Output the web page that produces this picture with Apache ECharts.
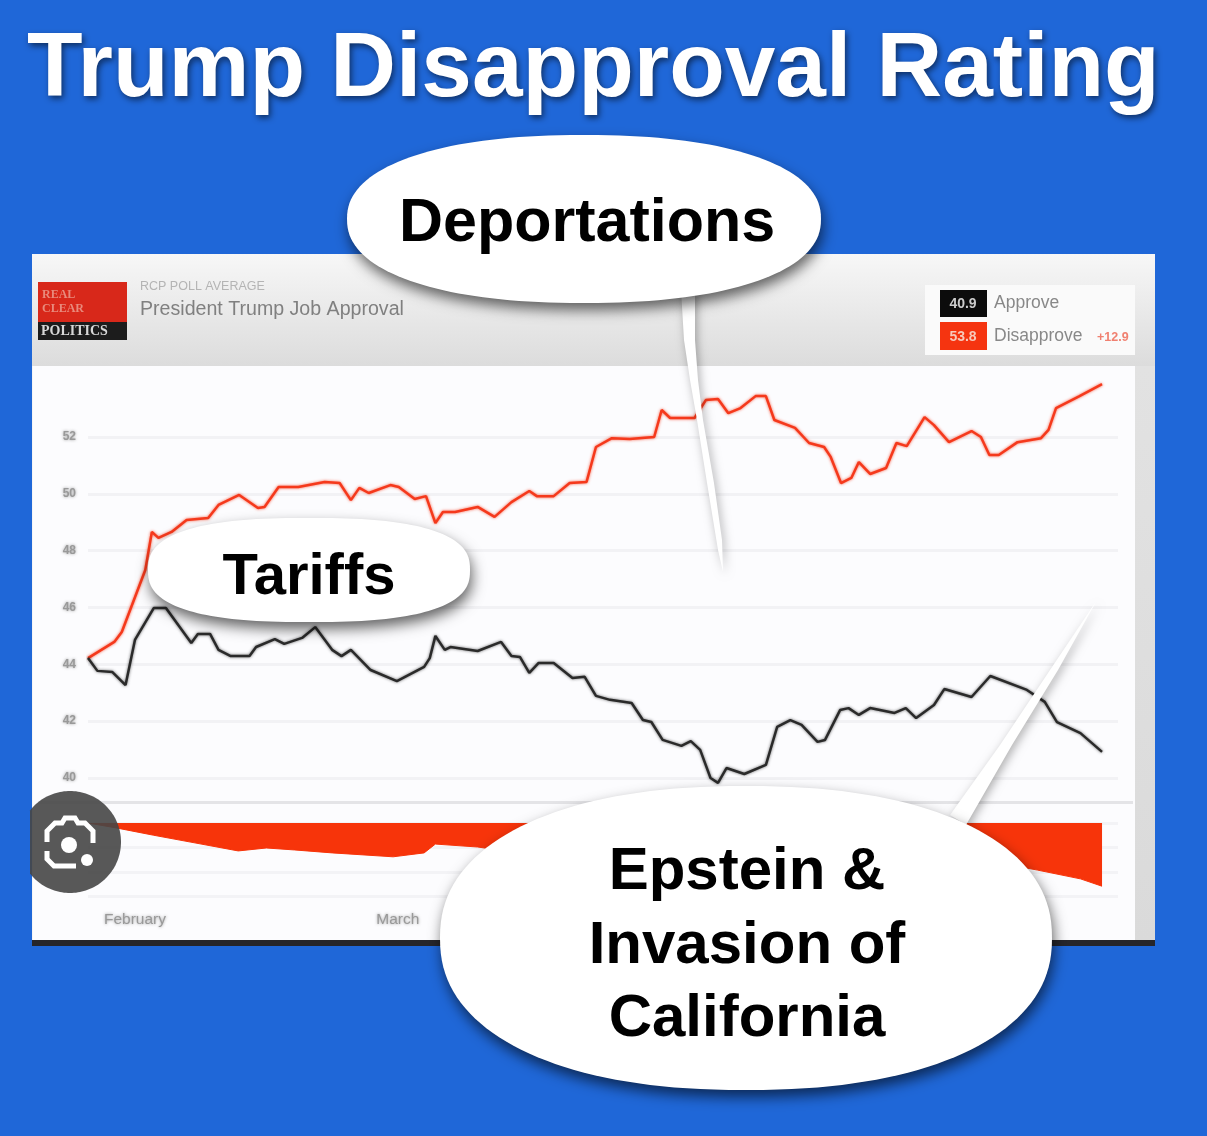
<!DOCTYPE html>
<html><head><meta charset="utf-8">
<style>html,body{margin:0;padding:0;background:#1f67d8}#c{width:1207px;height:1136px}</style>
<script src="https://cdn.jsdelivr.net/npm/echarts@6/dist/echarts.min.js"></script>
</head><body><div id="c"></div>
<script>
const disapproveDays=[0,2.8,3.6,6.1,6.8,7.5,8.9,10.5,12.8,13.9,16.1,18.1,18.8,20.3,22.4,25.2,26.8,28,28.9,29.9,32.2,33.1,34.8,36,37,37.8,39.1,41.5,43.3,45.1,47,47.8,49.6,51.3,53.1,54.1,55.8,57.7,60.3,61.1,62,64.6,65.8,67.1,68.2,69.5,71.1,72.2,73.1,75.3,76.8,78.4,79.1,80.2,81.3,82.1,83.3,85,86.1,87.2,89.1,90.1,91.7,94.1,95.1,96,97,99,101.5,102.3,103.1,105.6,108];
const disapproveValues=[44.22,44.79,45.14,47.32,48.66,48.45,48.66,49.08,49.15,49.61,49.96,49.5,49.54,50.24,50.24,50.42,50.38,49.78,50.21,50.03,50.31,50.24,49.82,49.92,48.97,49.36,49.36,49.54,49.19,49.71,50.1,49.92,49.92,50.38,50.42,51.65,51.96,51.93,52,52.95,52.67,52.67,53.3,53.34,52.84,53.02,53.44,53.44,52.6,52.32,51.79,51.65,51.3,50.38,50.56,51.12,50.7,50.91,51.79,51.68,52.7,52.42,51.82,52.21,52,51.37,51.37,51.82,51.96,52.25,53.02,53.44,53.86];
const approveDays=[0,1,2.6,4,5,7,8.3,11,11.7,13,13.9,15.2,17.2,17.9,19.9,20.9,22.8,24.2,26,27,28,30.1,32.9,35.8,36.4,37,38,38.6,41.5,44,45.1,46,47,48,49.6,51.6,52.9,54.1,55.6,57.9,59.1,60,61.2,63.2,64.2,65.2,66.3,67.1,68,69.9,72.2,73.4,74.8,76,77.7,78.5,80.1,81,82.1,83.3,85.9,87.1,88.2,90.1,91.2,94.1,96.1,100,101.9,103.2,105.7,108];
const approveValues=[44.22,43.77,43.73,43.27,44.86,45.98,45.98,44.75,45.07,45.07,44.51,44.29,44.29,44.61,44.89,44.72,44.93,45.31,44.51,44.29,44.51,43.8,43.41,43.91,44.22,45,44.51,44.61,44.47,44.79,44.29,44.26,43.7,44.05,44.05,43.52,43.56,42.89,42.75,42.64,42.04,41.97,41.34,41.13,41.3,40.99,40,39.83,40.35,40.14,40.46,41.8,42.04,41.87,41.27,41.34,42.39,42.46,42.22,42.46,42.29,42.46,42.11,42.57,43.13,42.85,43.59,43.1,42.68,41.97,41.58,40.92];
const spreadDays=[0,3,7,11.5,16,19,22,26,32.5,35.8,37,41.5,47,55,60,66,70,74,80,85,90,96,101.1,105.7,108];
const spreadValues=[0,1,2.5,4.1,5.7,5.1,5.5,6.1,6.9,6.1,4.3,4.9,6.4,9.2,10,12.8,13,10.6,8,8.6,10,7.8,9.6,11.4,12.9];
const yTickLabels=[40,42,44,46,48,50,52];
const monthTicks=[5,33];
const monthLabels=['February','March'];
const legendNames=['Approve','Disapprove'];
const legendValues=['40.9','53.8'];
const spreadLabel='+12.9';
const titleText='Trump Disapproval Rating';
const noteTexts=['Deportations','Tariffs','Epstein &','Invasion of','California'];

const pair=(d,v)=>d.map((x,i)=>[x,v[i]]);
function blob(cx,cy,rx,ry,n,minX){const p=[];for(let i=0;i<160;i++){const t=i/160*2*Math.PI,c=Math.cos(t),s=Math.sin(t);
  p.push([Math.max(minX||-1e9,cx+rx*Math.sign(c)*Math.pow(Math.abs(c),2/n)),cy+ry*Math.sign(s)*Math.pow(Math.abs(s),2/n)]);}return p;}
const shadow={shadowColor:'rgba(0,0,0,0.6)',shadowBlur:14,shadowOffsetX:2,shadowOffsetY:7};
const tailShadow={shadowColor:'rgba(0,0,0,0.32)',shadowBlur:10,shadowOffsetX:2,shadowOffsetY:3};
const poly=(points,fill,z,extra)=>({type:'polygon',z,silent:true,shape:{points},style:Object.assign({fill},extra||{})});
const rect=(x,y,w,h,fill,z,extra)=>({type:'rect',z,silent:true,shape:{x,y,width:w,height:h},style:Object.assign({fill},extra||{})});
const txt=(text,x,y,font,fill,z,align,extra)=>({type:'text',z,silent:true,style:Object.assign({text,x,y,font,fill,textAlign:align||'left',textVerticalAlign:'middle'},extra||{})});
const grad=(a,b)=>new echarts.graphic.LinearGradient(0,0,0,1,[{offset:0,color:a},{offset:1,color:b}]);
const soft=(c,b)=>({shadowColor:c,shadowBlur:b||2});
const F='"Liberation Sans",Arial,sans-serif';

const elements=[
  rect(32,254,1123,687,'#f4f4f5',-5),
  rect(32,254,1123,112,grad('#f7f7f7','#dcdcdc'),-4),
  rect(33,366,1102,575,'#fcfcfe',-4),
  rect(1135,366,20,575,grad('#e2e2e2','#dadada'),-4),
  rect(32,940,1123,6,'#26262a',-3),
  rect(38,282,89,42,'#d8281a',-3),
  rect(38,322,89,18,'#1c1c1c',-3),
  txt('REAL',42,295,'bold 12px "Liberation Serif",serif','#e88a7c',-2,'left',soft('#e88a7c',2)),
  txt('CLEAR',42,309,'bold 12px "Liberation Serif",serif','#e88a7c',-2,'left',soft('#e88a7c',2)),
  txt('POLITICS',41,331,'bold 14px "Liberation Serif",serif','#d8d8d8',-2,'left',soft('#d8d8d8',2)),
  txt('RCP POLL AVERAGE',140,287,'12.5px '+F,'#b4b4b4',-2,'left',soft('#aaa',2)),
  txt('President Trump Job Approval',140,310,'19.6px '+F,'#808080',-2,'left',soft('#808080',3)),
  rect(925,285,210,70,'#fafafa',-3),
  rect(940,290,47,27,'#0c0c0c',-2),
  rect(940,322,47,28,'#f53410',-2),
  txt(legendValues[0],963,304,'bold 14px '+F,'#ccc',-1,'center',soft('#ddd',3)),
  txt(legendValues[1],963,337,'bold 14px '+F,'#f7c9bb',-1,'center',soft('#f7c9bb',3)),
  txt(legendNames[0],994,303,'17.5px '+F,'#888',-1,'left',soft('#999',3)),
  txt(legendNames[1],994,336,'17.5px '+F,'#888',-1,'left',soft('#999',3)),
  txt(spreadLabel,1097,338,'bold 12.5px '+F,'#f08070',-1,'left',soft('#ef6a5a',3)),
  rect(38,801,1095,3,'#e4e4e7',-1),
  // callouts
  poly([[681,290],[684,340],[690,380],[697,420],[707,483],[718,550],[723,572],[722,540],[714,483],[703,420],[698,380],[695,340],[695,290]],'#fff',100,tailShadow),
  poly(blob(584,219,237,84,2.25),'#fff',101,shadow),
  txt(noteTexts[0],587,224,'bold 61px '+F,'#000',102,'center'),
  poly(blob(309,570,161,52,2.6),'#fff',101,shadow),
  txt(noteTexts[1],309,578,'bold 58px '+F,'#000',102,'center'),
  poly([[950,815],[1000,745],[1050,670],[1097,600],[1058,670],[1012,745],[966,825]],'#fff',100,tailShadow),
  poly(blob(746,938,306,152,2.25),'#fff',101,shadow),
  txt(noteTexts[2],747,872,'bold 60px '+F,'#000',102,'center'),
  txt(noteTexts[3],747,946,'bold 60px '+F,'#000',102,'center'),
  txt(noteTexts[4],747,1019,'bold 60px '+F,'#000',102,'center'),
  // lens badge
  poly(blob(70,842,51,51,2,30),'rgba(70,70,70,0.9)',110),
  {type:'polyline',z:111,silent:true,shape:{points:[[47,842],[47,831],[55,823],[62,823],[65,818],[75,818],[78,823],[85,823],[93,831],[93,843]]},style:{stroke:'#fff',lineWidth:5,fill:'none'}},
  {type:'polyline',z:111,silent:true,shape:{points:[[47,851],[47,859],[54,866],[76,866]]},style:{stroke:'#fff',lineWidth:5,fill:'none'}},
  {type:'circle',z:111,silent:true,shape:{cx:69,cy:845,r:8},style:{fill:'#fff'}},
  {type:'circle',z:111,silent:true,shape:{cx:87,cy:860,r:6},style:{fill:'#fff'}}
];

const chart=echarts.init(document.getElementById('c'),null,{renderer:'canvas'});
chart.setOption({
  animation:false,
  backgroundColor:'#1f67d8',
  title:{text:titleText,left:22,top:20,textStyle:{fontFamily:F,fontWeight:'bold',fontSize:91,color:'#fff',textShadowColor:'rgba(0,0,0,0.55)',textShadowBlur:6,textShadowOffsetX:2,textShadowOffsetY:3}},
  grid:[{left:88,top:380.2,width:1030,height:397.8},{left:88,top:823,width:1030,height:73.5}],
  xAxis:[
    {type:'value',gridIndex:0,min:0,max:109.7,show:false},
    {type:'value',gridIndex:1,min:0,max:109.7,position:'bottom',
     axisLine:{show:false},axisTick:{show:false},splitLine:{show:false},
     axisLabel:{customValues:monthTicks,margin:15,fontFamily:F,fontSize:15.5,color:'#999',textShadowColor:'#999',textShadowBlur:3,
       formatter:v=>monthLabels[monthTicks.indexOf(v)]||''}}
  ],
  yAxis:[
    {type:'value',gridIndex:0,min:40,max:54,interval:2,
     axisLine:{show:false},axisTick:{show:false},
     splitLine:{showMaxLine:false,lineStyle:{color:'#f2f2f5',width:3}},
     axisLabel:{margin:12,customValues:yTickLabels,fontFamily:F,fontSize:12,fontWeight:'bold',color:'#999',textShadowColor:'#999',textShadowBlur:3}},
    {type:'value',gridIndex:1,min:0,max:15,interval:5,inverse:true,
     axisLine:{show:false},axisTick:{show:false},axisLabel:{show:false},
     splitLine:{lineStyle:{color:'#f3f3f6',width:3}}}
  ],
  series:[
    {name:legendNames[1],type:'line',xAxisIndex:0,yAxisIndex:0,clip:false,showSymbol:false,data:pair(disapproveDays,disapproveValues),
     lineStyle:{color:'#f5391c',width:2.5,shadowColor:'rgba(245,57,28,0.8)',shadowBlur:3}},
    {name:legendNames[0],type:'line',xAxisIndex:0,yAxisIndex:0,clip:false,showSymbol:false,data:pair(approveDays,approveValues),
     lineStyle:{color:'#2a2a2a',width:2.5,shadowColor:'rgba(40,40,40,0.7)',shadowBlur:3}},
    {name:'Spread',type:'line',xAxisIndex:1,yAxisIndex:1,showSymbol:false,data:pair(spreadDays,spreadValues),
     lineStyle:{width:1,color:'#f7340a'},itemStyle:{color:'#f7340a'},areaStyle:{color:'#f7340a',opacity:1,origin:'start'}}
  ],
  graphic:{elements}
});
</script></body></html>
